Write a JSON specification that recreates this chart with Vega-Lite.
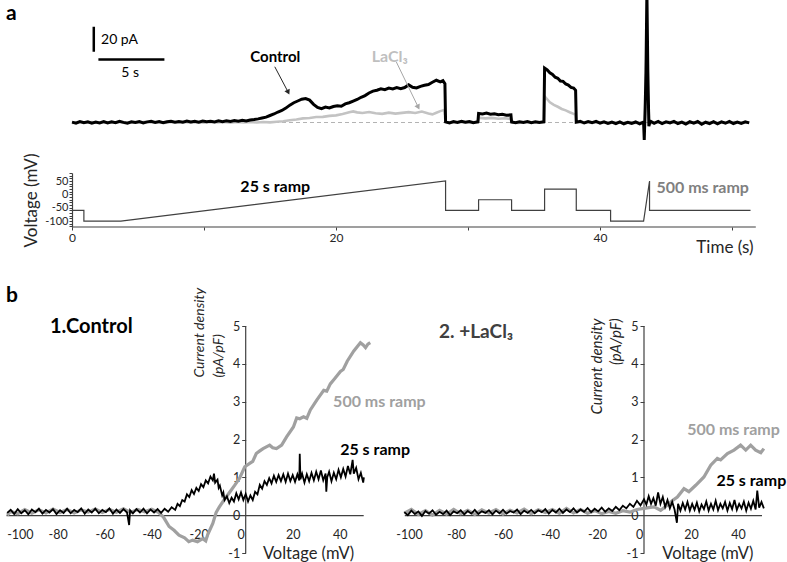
{
"$schema": "https://vega.github.io/schema/vega-lite/v6.json",
"padding": {"left": 0, "top": 0, "right": 0, "bottom": 0},
"config": {
  "font": "Lato",
  "view": {"stroke": null},
  "axis": {"grid": false, "labelFont": "Lato", "titleFont": "Lato", "labelColor": "#262626", "titleColor": "#262626", "titleFontWeight": "normal", "domainColor": "#404040", "tickColor": "#404040", "labelOverlap": false, "domainWidth": 1.2}
},
"bounds": "flush",
"spacing": 28,
"vconcat": [
   {
    "width": 749.8, "height": 145,
    "encoding": {
     "x": {"field": "t", "type": "quantitative", "scale": {"domain": [-5, 51.8], "nice": false, "zero": false}, "axis": null},
     "y": {"field": "pA", "type": "quantitative", "scale": {"domain": [-18, 98], "nice": false, "zero": false}, "axis": null}
    },
    "layer": [
     {"data": {"values": [{"t": 0, "t_end": 51.3, "pA": 0}]}, "mark": {"type": "rule", "color": "#b3b3b3", "strokeWidth": 1, "strokeDash": [4, 3]}, "encoding": {"x2": {"field": "t_end"}}},
     {"data": {"name": "trace_lacl3"}, "mark": {"type": "line", "color": "#c3c3c3", "strokeWidth": 2.6, "clip": true}, "encoding": {"order": {"value": null}}},
     {"data": {"name": "trace_control"}, "mark": {"type": "line", "color": "#000000", "strokeWidth": 3, "clip": true}, "encoding": {"order": {"value": null}}},
     {"data": {"values": [{"t": 1.65, "t_end": 1.65, "pA": 56.6, "pA_end": 76.6}, {"t": 2.0, "t_end": 7.0, "pA": 50.5, "pA_end": 50.5}]}, "mark": {"type": "rule", "color": "#000000", "strokeWidth": 2.5}, "encoding": {"x2": {"field": "t_end"}, "y2": {"field": "pA_end"}}},
     {"data": {"values": [{"t": 15.36, "pA": 44.6, "t_end": 16.35, "pA_end": 24.8, "who": "Control"}, {"t": 24.57, "pA": 48.4, "t_end": 26.2, "pA_end": 12.9, "who": "LaCl3"}]},
      "layer": [
       {"mark": {"type": "rule", "strokeWidth": 1}, "encoding": {"x2": {"field": "t_end"}, "y2": {"field": "pA_end"}, "color": {"field": "who", "type": "nominal", "scale": {"domain": ["Control", "LaCl3"], "range": ["#262626", "#a6a6a6"]}, "legend": null}}},
       {"mark": {"type": "point", "shape": "triangle", "filled": true, "size": 35, "angle": 153, "opacity": 1}, "encoding": {"x": {"field": "t_end", "type": "quantitative", "axis": null}, "y": {"field": "pA_end", "type": "quantitative", "axis": null}, "color": {"field": "who", "type": "nominal", "scale": {"domain": ["Control", "LaCl3"], "range": ["#262626", "#a6a6a6"]}, "legend": null}}}
      ]},
     {"data": {"values": [{"t": 15.4, "pA": 52.4, "label": "Control"}]}, "mark": {"type": "text", "fontWeight": "bold", "fontSize": 15, "color": "#000000", "align": "center", "baseline": "middle"}, "encoding": {"text": {"field": "label"}}},
     {"data": {"values": [{"t": 24.07, "pA": 52.4, "label": "LaCl₃"}]}, "mark": {"type": "text", "fontWeight": "bold", "fontSize": 16, "color": "#bfbfbf", "align": "center", "baseline": "middle"}, "encoding": {"text": {"field": "label"}}},
     {"data": {"values": [{"t": 2.2, "pA": 66, "label": "20 pA"}]}, "mark": {"type": "text", "fontSize": 14, "color": "#000000", "align": "left", "baseline": "middle"}, "encoding": {"text": {"field": "label"}}},
     {"data": {"values": [{"t": 4.4, "pA": 39.4, "label": "5 s"}]}, "mark": {"type": "text", "fontSize": 14, "color": "#000000", "align": "center", "baseline": "middle"}, "encoding": {"text": {"field": "label"}}},
     {"data": {"values": [{"t": -5, "pA": 82, "label": "a"}]}, "mark": {"type": "text", "fontSize": 21, "fontWeight": "bold", "color": "#000000", "align": "left", "baseline": "alphabetic"}, "encoding": {"text": {"field": "label"}}}
    ]
   },
   {
    "width": 749.8, "height": 54,
    "encoding": {
     "x": {"field": "t", "type": "quantitative", "scale": {"domain": [-5, 51.8], "nice": false, "zero": false},
       "axis": {"values": [0, 10, 20, 30, 40, 50], "labelExpr": "datum.value % 20 === 0 ? datum.label : ''", "domain": false, "tickSize": 3, "labelFontSize": 12, "labelPadding": 2, "title": "Time (s)", "titleFontSize": 17, "titleAlign": "right", "titleX": 747, "titleY": 20, "titleBaseline": "middle"}},
     "y": {"field": "mV", "type": "quantitative", "scale": {"domain": [-122, 80], "nice": false, "zero": false},
       "axis": {"orient": "left", "offset": -66, "values": [-120, -110, -100, -90, -80, -70, -60, -50, -40, -30, -20, -10, 0, 10, 20, 30, 40, 50, 60, 70, 80], "labelExpr": "datum.value % 50 === 0 ? '' + datum.value : ''", "tickSize": 3, "labelFontSize": 11, "labelPadding": 1, "title": "Voltage (mV)", "titleFontSize": 17, "titleX": -41, "titleY": 27, "titleAngle": 270, "titleAlign": "center", "titleBaseline": "middle"}}
    },
    "layer": [
     {"data": {"name": "protocol"}, "mark": {"type": "line", "color": "#404040", "strokeWidth": 1.2}, "encoding": {"order": {"value": null}}},
     {"data": {"values": [{"t": 0, "t_end": 51.8, "mV": -122}]}, "mark": {"type": "rule", "color": "#404040", "strokeWidth": 1.2}, "encoding": {"x2": {"field": "t_end"}}},
     {"data": {"values": [{"t": 15.4, "mV": 28.8, "label": "25 s ramp"}]}, "mark": {"type": "text", "fontWeight": "bold", "fontSize": 16, "color": "#000000", "align": "center", "baseline": "middle"}, "encoding": {"text": {"field": "label"}}},
     {"data": {"values": [{"t": 44.27, "mV": 22.8, "label": "500 ms ramp"}]}, "mark": {"type": "text", "fontWeight": "bold", "fontSize": 16, "color": "#808080", "align": "left", "baseline": "middle"}, "encoding": {"text": {"field": "label"}}}
    ]
   },
 {
  "bounds": "flush",
  "spacing": 40.3,
  "hconcat": [
   {
    "width": 357.2, "height": 298,
    "encoding": {
     "x": {"field": "mV", "type": "quantitative", "scale": {"domain": [-102, 50], "nice": false, "zero": false},
       "axis": {"orient": "bottom", "offset": -37.8, "values": [-100, -80, -60, -40, -20, 0, 20, 40], "labelExpr": "'' + datum.value", "tickSize": 0, "labelPadding": 13.5, "labelFontSize": 12.5,
         "labelOffset": {"condition": [{"test": "datum.value === 0", "value": -5}, {"test": "datum.value === -100", "value": -4}], "value": 0},
         "labelAlign": {"condition": {"test": "datum.value === -100", "value": "left"}, "value": "center"},
         "title": "Voltage (mV)", "titleFontSize": 16.5, "titleX": 302, "titleY": 38.5, "titleAlign": "center", "titleBaseline": "middle"}},
     "y": {"field": "J", "type": "quantitative", "scale": {"domain": [-1, 6.877], "nice": false, "zero": false},
       "axis": {"orient": "left", "offset": -239.7, "domain": false, "values": [-1, 0, 1, 2, 3, 4, 5], "labelExpr": "'' + datum.value", "tickSize": 4, "labelPadding": 2, "labelFontSize": 12.5,
         "title": ["Current density", "(pA/pF)"], "titleFontStyle": "italic", "titleFontSize": 14, "titleAngle": 270, "titleAlign": "left", "titleBaseline": "middle", "titleLineHeight": 19, "titleX": -46, "titleY": 122}}
    },
    "layer": [
     {"data": {"values": [{"mV": 0, "J": -1, "J_end": 5}]}, "mark": {"type": "rule", "color": "#404040", "strokeWidth": 1.2}, "encoding": {"y2": {"field": "J_end"}}},
     {"data": {"name": "iv_ctrl_500"}, "mark": {"type": "line", "color": "#a0a0a0", "strokeWidth": 3.2, "clip": false}, "encoding": {"order": {"value": null}}},
     {"data": {"name": "iv_ctrl_25"}, "mark": {"type": "line", "color": "#000000", "strokeWidth": 1.8, "clip": false}, "encoding": {"order": {"value": null}}},
     {"data": {"values": [{"mV": -83.3, "J": 4.82, "label": "1.Control"}]}, "mark": {"type": "text", "fontWeight": "bold", "fontSize": 20, "color": "#000000", "align": "left", "baseline": "alphabetic"}, "encoding": {"text": {"field": "label"}}},
     {"data": {"values": [{"mV": 37.2, "J": 3.0, "label": "500 ms ramp"}]}, "mark": {"type": "text", "fontWeight": "bold", "fontSize": 16, "color": "#a0a0a0", "align": "left", "baseline": "middle"}, "encoding": {"text": {"field": "label"}}},
     {"data": {"values": [{"mV": 40.2, "J": 1.72, "label": "25 s ramp"}]}, "mark": {"type": "text", "fontWeight": "bold", "fontSize": 16, "color": "#000000", "align": "left", "baseline": "middle"}, "encoding": {"text": {"field": "label"}}},
     {"data": {"values": [{"mV": -102, "J": 5.64, "label": "b"}]}, "mark": {"type": "text", "fontWeight": "bold", "fontSize": 21, "color": "#000000", "align": "left", "baseline": "alphabetic"}, "encoding": {"text": {"field": "label"}}}
    ]
   },
   {
    "width": 357.2, "height": 298,
    "encoding": {
     "x": {"field": "mV", "type": "quantitative", "scale": {"domain": [-102, 50], "nice": false, "zero": false},
       "axis": {"orient": "bottom", "offset": -37.8, "values": [-100, -80, -60, -40, -20, 0, 20, 40], "labelExpr": "'' + datum.value", "tickSize": 0, "labelPadding": 13.5, "labelFontSize": 12.5,
         "labelOffset": {"condition": {"test": "datum.value === 0", "value": -5}, "value": 0},
         "title": "Voltage (mV)", "titleFontSize": 16.5, "titleX": 303, "titleY": 38.5, "titleAlign": "center", "titleBaseline": "middle"}},
     "y": {"field": "J", "type": "quantitative", "scale": {"domain": [-1, 6.877], "nice": false, "zero": false},
       "axis": {"orient": "left", "offset": -239.7, "domain": false, "values": [-1, 0, 1, 2, 3, 4, 5], "labelExpr": "'' + datum.value", "tickSize": 4, "labelPadding": 2, "labelFontSize": 12.5,
         "title": ["Current density", "(pA/pF)"], "titleFontStyle": "italic", "titleFontSize": 15, "titleAngle": 270, "titleAlign": "right", "titleBaseline": "middle", "titleLineHeight": 19, "titleX": -48, "titleY": 63}}
    },
    "layer": [
     {"data": {"values": [{"mV": 0, "J": -1, "J_end": 5}]}, "mark": {"type": "rule", "color": "#404040", "strokeWidth": 1.2}, "encoding": {"y2": {"field": "J_end"}}},
     {"data": {"name": "iv_la_500"}, "mark": {"type": "line", "color": "#a0a0a0", "strokeWidth": 3.2, "clip": false}, "encoding": {"order": {"value": null}}},
     {"data": {"name": "iv_la_25"}, "mark": {"type": "line", "color": "#000000", "strokeWidth": 1.8, "clip": false}, "encoding": {"order": {"value": null}}},
     {"data": {"values": [{"mV": -87.2, "J": 4.68, "label": "2. +LaCl₃"}]}, "mark": {"type": "text", "fontWeight": "bold", "fontSize": 19, "color": "#404040", "align": "left", "baseline": "alphabetic"}, "encoding": {"text": {"field": "label"}}},
     {"data": {"values": [{"mV": 18.4, "J": 2.25, "label": "500 ms ramp"}]}, "mark": {"type": "text", "fontWeight": "bold", "fontSize": 16, "color": "#a0a0a0", "align": "left", "baseline": "middle"}, "encoding": {"text": {"field": "label"}}},
     {"data": {"values": [{"mV": 30.8, "J": 0.89, "label": "25 s ramp"}]}, "mark": {"type": "text", "fontWeight": "bold", "fontSize": 16, "color": "#000000", "align": "left", "baseline": "middle"}, "encoding": {"text": {"field": "label"}}}
    ]
   }
  ]
 }
],
"datasets": {
 "protocol": [{"t":0,"mV":-60},{"t":0.9,"mV":-60},{"t":0.9,"mV":-100},{"t":3.7,"mV":-100},{"t":28.3,"mV":50},{"t":28.3,"mV":-60},{"t":30.8,"mV":-60},{"t":30.8,"mV":-20},{"t":33.3,"mV":-20},{"t":33.3,"mV":-60},{"t":35.8,"mV":-60},{"t":35.8,"mV":20},{"t":38.2,"mV":20},{"t":38.2,"mV":-60},{"t":40.8,"mV":-60},{"t":40.8,"mV":-100},{"t":43.3,"mV":-100},{"t":43.75,"mV":50},{"t":43.75,"mV":-60},{"t":51.4,"mV":-60}],
 "trace_control": [{"t":0,"pA":0.3},{"t":0.3,"pA":-0.5},{"t":0.6,"pA":0.8},{"t":0.9,"pA":-0.2},{"t":1.2,"pA":0.6},{"t":1.5,"pA":-0.6},{"t":1.8,"pA":0.4},{"t":2.1,"pA":-0.3},{"t":2.4,"pA":0.7},{"t":2.7,"pA":-0.4},{"t":3.0,"pA":0.5},{"t":3.3,"pA":-0.2},{"t":3.6,"pA":0.9},{"t":3.9,"pA":0.1},{"t":4.2,"pA":-0.5},{"t":4.5,"pA":0.6},{"t":4.8,"pA":0},{"t":5.1,"pA":0.8},{"t":5.4,"pA":-0.3},{"t":5.7,"pA":0.5},{"t":6.0,"pA":0.9},{"t":6.3,"pA":0.1},{"t":6.6,"pA":0.7},{"t":6.9,"pA":-0.2},{"t":7.2,"pA":0.6},{"t":7.5,"pA":1.0},{"t":7.8,"pA":0.2},{"t":8.1,"pA":0.8},{"t":8.4,"pA":0.3},{"t":8.7,"pA":1.1},{"t":9.0,"pA":0.4},{"t":9.3,"pA":0.9},{"t":9.6,"pA":0.3},{"t":9.9,"pA":1.2},{"t":10.2,"pA":0.6},{"t":10.5,"pA":1.0},{"t":10.8,"pA":0.5},{"t":11.1,"pA":1.3},{"t":11.4,"pA":0.7},{"t":11.7,"pA":1.4},{"t":12.0,"pA":0.9},{"t":12.3,"pA":1.5},{"t":12.6,"pA":1.0},{"t":12.9,"pA":1.8},{"t":13.2,"pA":1.3},{"t":13.5,"pA":2.0},{"t":13.8,"pA":2.4},{"t":14.1,"pA":2.9},{"t":14.4,"pA":3.6},{"t":14.7,"pA":4.3},{"t":15.0,"pA":5.6},{"t":15.3,"pA":6.8},{"t":15.6,"pA":8.4},{"t":15.9,"pA":9.6},{"t":16.2,"pA":11.5},{"t":16.5,"pA":13.9},{"t":16.8,"pA":15.8},{"t":17.1,"pA":17.2},{"t":17.4,"pA":18.6},{"t":17.7,"pA":19.2},{"t":18.0,"pA":17.9},{"t":18.3,"pA":14.5},{"t":18.6,"pA":12.0},{"t":18.9,"pA":11.0},{"t":19.2,"pA":12.3},{"t":19.5,"pA":11.6},{"t":19.8,"pA":12.8},{"t":20.1,"pA":13.4},{"t":20.4,"pA":13.0},{"t":20.7,"pA":14.9},{"t":21.0,"pA":15.8},{"t":21.3,"pA":17.1},{"t":21.6,"pA":18.4},{"t":21.9,"pA":20.2},{"t":22.2,"pA":21.5},{"t":22.5,"pA":23.6},{"t":22.8,"pA":25.1},{"t":23.1,"pA":25.8},{"t":23.4,"pA":26.9},{"t":23.7,"pA":26.2},{"t":24.0,"pA":27.5},{"t":24.3,"pA":26.8},{"t":24.6,"pA":27.9},{"t":24.9,"pA":27.1},{"t":25.2,"pA":28.0},{"t":25.5,"pA":30.1},{"t":25.8,"pA":28.2},{"t":26.1,"pA":27.6},{"t":26.4,"pA":28.9},{"t":26.7,"pA":29.8},{"t":27.0,"pA":30.4},{"t":27.3,"pA":32.2},{"t":27.6,"pA":33.8},{"t":27.9,"pA":32.5},{"t":28.1,"pA":33.5},{"t":28.25,"pA":31.0},{"t":28.3,"pA":0.5},{"t":28.6,"pA":-0.3},{"t":28.9,"pA":0.7},{"t":29.2,"pA":0.1},{"t":29.5,"pA":0.9},{"t":29.8,"pA":0.2},{"t":30.1,"pA":0.8},{"t":30.4,"pA":-0.1},{"t":30.75,"pA":0.6},{"t":30.8,"pA":7.2},{"t":31.1,"pA":6.8},{"t":31.4,"pA":7.5},{"t":31.7,"pA":6.6},{"t":32.0,"pA":6.9},{"t":32.3,"pA":6.2},{"t":32.6,"pA":6.5},{"t":32.9,"pA":5.8},{"t":33.25,"pA":6.1},{"t":33.3,"pA":0.4},{"t":33.6,"pA":-0.2},{"t":33.9,"pA":0.6},{"t":34.2,"pA":0},{"t":34.5,"pA":0.7},{"t":34.8,"pA":-0.1},{"t":35.1,"pA":0.5},{"t":35.4,"pA":0.1},{"t":35.75,"pA":0.6},{"t":35.8,"pA":43.5},{"t":36.0,"pA":42.0},{"t":36.2,"pA":39.8},{"t":36.4,"pA":38.5},{"t":36.6,"pA":36.2},{"t":36.8,"pA":35.4},{"t":37.0,"pA":33.2},{"t":37.2,"pA":32.9},{"t":37.4,"pA":30.8},{"t":37.6,"pA":29.9},{"t":37.8,"pA":28.1},{"t":38.0,"pA":27.6},{"t":38.15,"pA":25.8},{"t":38.2,"pA":0.3},{"t":38.5,"pA":1.0},{"t":38.8,"pA":-0.4},{"t":39.1,"pA":0.8},{"t":39.4,"pA":-0.2},{"t":39.7,"pA":0.9},{"t":40.0,"pA":-0.5},{"t":40.3,"pA":0.6},{"t":40.6,"pA":-0.7},{"t":40.9,"pA":0.4},{"t":41.2,"pA":-0.9},{"t":41.5,"pA":0.5},{"t":41.8,"pA":-1.0},{"t":42.1,"pA":0.2},{"t":42.4,"pA":-0.8},{"t":42.7,"pA":0.4},{"t":43.0,"pA":-1.1},{"t":43.3,"pA":0.3},{"t":43.35,"pA":-14},{"t":43.42,"pA":12},{"t":43.48,"pA":40},{"t":43.55,"pA":105},{"t":43.62,"pA":42},{"t":43.7,"pA":-3},{"t":43.8,"pA":1.2},{"t":44.1,"pA":-0.6},{"t":44.4,"pA":0.8},{"t":44.7,"pA":-0.9},{"t":45.0,"pA":0.5},{"t":45.3,"pA":-0.4},{"t":45.6,"pA":0.9},{"t":45.9,"pA":-0.8},{"t":46.2,"pA":0.3},{"t":46.5,"pA":-1.2},{"t":46.8,"pA":0.6},{"t":47.1,"pA":-0.5},{"t":47.4,"pA":0.8},{"t":47.7,"pA":-1.4},{"t":48.0,"pA":0.2},{"t":48.3,"pA":-0.9},{"t":48.6,"pA":0.7},{"t":48.9,"pA":-1.0},{"t":49.2,"pA":0.5},{"t":49.5,"pA":-0.6},{"t":49.8,"pA":0.9},{"t":50.1,"pA":-0.8},{"t":50.4,"pA":0.4},{"t":50.7,"pA":-0.7},{"t":51.0,"pA":0.6},{"t":51.3,"pA":-0.3}],
 "trace_lacl3": [{"t":0,"pA":-0.3},{"t":0.5,"pA":0.4},{"t":1.0,"pA":-0.2},{"t":1.5,"pA":0.3},{"t":2.0,"pA":-0.4},{"t":2.5,"pA":0.2},{"t":3.0,"pA":-0.1},{"t":3.5,"pA":0.4},{"t":4.0,"pA":-0.3},{"t":4.5,"pA":0.2},{"t":5.0,"pA":-0.2},{"t":5.5,"pA":0.5},{"t":6.0,"pA":0.0},{"t":6.5,"pA":0.3},{"t":7.0,"pA":-0.3},{"t":7.5,"pA":0.4},{"t":8.0,"pA":0.0},{"t":8.5,"pA":0.5},{"t":9.0,"pA":-0.1},{"t":9.5,"pA":0.3},{"t":10.0,"pA":-0.2},{"t":10.5,"pA":0.4},{"t":11.0,"pA":0.0},{"t":11.5,"pA":0.5},{"t":12.0,"pA":-0.1},{"t":12.5,"pA":0.4},{"t":13.0,"pA":0.1},{"t":13.5,"pA":0.5},{"t":14.0,"pA":0.0},{"t":14.5,"pA":0.4},{"t":15.0,"pA":0.1},{"t":15.5,"pA":0.6},{"t":16.0,"pA":1.0},{"t":16.5,"pA":1.8},{"t":17.0,"pA":2.4},{"t":17.5,"pA":3.3},{"t":18.0,"pA":3.6},{"t":18.5,"pA":4.4},{"t":19.0,"pA":4.5},{"t":19.5,"pA":5.3},{"t":20.0,"pA":5.7},{"t":20.5,"pA":6.8},{"t":21.0,"pA":8.2},{"t":21.3,"pA":8.9},{"t":21.6,"pA":8.1},{"t":22.0,"pA":7.6},{"t":22.5,"pA":8.4},{"t":23.0,"pA":7.4},{"t":23.5,"pA":6.9},{"t":24.0,"pA":7.9},{"t":24.5,"pA":7.1},{"t":25.0,"pA":7.7},{"t":25.5,"pA":8.3},{"t":26.0,"pA":7.6},{"t":26.5,"pA":8.8},{"t":27.0,"pA":7.2},{"t":27.3,"pA":6.5},{"t":27.6,"pA":7.8},{"t":27.9,"pA":9.1},{"t":28.2,"pA":10.1},{"t":28.3,"pA":0.3},{"t":28.8,"pA":-0.2},{"t":29.3,"pA":0.4},{"t":29.8,"pA":-0.1},{"t":30.3,"pA":0.3},{"t":30.75,"pA":-0.1},{"t":30.8,"pA":3.9},{"t":31.3,"pA":3.3},{"t":31.8,"pA":3.7},{"t":32.3,"pA":3.0},{"t":32.8,"pA":3.4},{"t":33.25,"pA":2.8},{"t":33.3,"pA":0.2},{"t":33.8,"pA":-0.3},{"t":34.3,"pA":0.4},{"t":34.8,"pA":-0.1},{"t":35.3,"pA":0.3},{"t":35.75,"pA":0.0},{"t":35.8,"pA":21.0},{"t":36.0,"pA":18.6},{"t":36.2,"pA":16.2},{"t":36.5,"pA":14.1},{"t":36.8,"pA":12.6},{"t":37.1,"pA":10.8},{"t":37.4,"pA":9.7},{"t":37.7,"pA":8.2},{"t":38.0,"pA":6.9},{"t":38.15,"pA":6.1},{"t":38.2,"pA":0.3},{"t":38.7,"pA":-0.4},{"t":39.2,"pA":0.5},{"t":39.7,"pA":-0.2},{"t":40.2,"pA":0.3},{"t":40.7,"pA":-0.5},{"t":41.2,"pA":0.2},{"t":41.7,"pA":-0.4},{"t":42.2,"pA":0.4},{"t":42.7,"pA":-0.3},{"t":43.3,"pA":0.2},{"t":43.38,"pA":-8},{"t":43.5,"pA":50},{"t":43.65,"pA":15},{"t":43.75,"pA":-1},{"t":44.2,"pA":0.4},{"t":44.7,"pA":-0.3},{"t":45.2,"pA":0.5},{"t":45.7,"pA":-0.2},{"t":46.2,"pA":0.3},{"t":46.7,"pA":-0.5},{"t":47.2,"pA":0.2},{"t":47.7,"pA":-0.3},{"t":48.2,"pA":0.4},{"t":48.7,"pA":-0.4},{"t":49.2,"pA":0.3},{"t":49.7,"pA":-0.2},{"t":50.2,"pA":0.4},{"t":50.7,"pA":-0.3},{"t":51.3,"pA":0.1}],
 "iv_ctrl_500": [{"mV":-101.5,"J":0.0},{"mV":-100,"J":0.1},{"mV":-97,"J":0.04},{"mV":-94,"J":0.15},{"mV":-91,"J":0.05},{"mV":-88,"J":0.14},{"mV":-85,"J":0.06},{"mV":-82,"J":0.16},{"mV":-79,"J":0.07},{"mV":-76,"J":0.15},{"mV":-73,"J":0.06},{"mV":-70,"J":0.14},{"mV":-67,"J":0.08},{"mV":-64,"J":0.16},{"mV":-61,"J":0.07},{"mV":-58,"J":0.15},{"mV":-55,"J":0.08},{"mV":-52,"J":0.17},{"mV":-49,"J":0.07},{"mV":-46,"J":0.15},{"mV":-43,"J":0.09},{"mV":-40,"J":0.16},{"mV":-38,"J":0.1},{"mV":-37,"J":0.07},{"mV":-35,"J":-0.05},{"mV":-32.6,"J":-0.3},{"mV":-30.5,"J":-0.4},{"mV":-28.4,"J":-0.53},{"mV":-26,"J":-0.6},{"mV":-24.2,"J":-0.7},{"mV":-22.6,"J":-0.66},{"mV":-20.5,"J":-0.7},{"mV":-18.3,"J":-0.62},{"mV":-17,"J":-0.68},{"mV":-16.2,"J":-0.52},{"mV":-14,"J":-0.22},{"mV":-12.6,"J":0.07},{"mV":-11.2,"J":0.22},{"mV":-9,"J":0.42},{"mV":-6.9,"J":0.6},{"mV":-4.8,"J":0.78},{"mV":-2.6,"J":0.98},{"mV":-0.4,"J":1.28},{"mV":1.7,"J":1.37},{"mV":3,"J":1.42},{"mV":4.5,"J":1.63},{"mV":6,"J":1.7},{"mV":7.4,"J":1.76},{"mV":10.2,"J":1.85},{"mV":11.5,"J":1.78},{"mV":13.1,"J":1.76},{"mV":15.3,"J":1.85},{"mV":17.4,"J":2.07},{"mV":20.3,"J":2.33},{"mV":21.7,"J":2.57},{"mV":23,"J":2.55},{"mV":24.6,"J":2.6},{"mV":26,"J":2.56},{"mV":27.5,"J":2.78},{"mV":30.3,"J":3.05},{"mV":33.2,"J":3.3},{"mV":34.5,"J":3.28},{"mV":36,"J":3.47},{"mV":38,"J":3.62},{"mV":40.3,"J":3.8},{"mV":41.5,"J":3.85},{"mV":43.2,"J":4.07},{"mV":46,"J":4.34},{"mV":48.8,"J":4.56},{"mV":50,"J":4.5},{"mV":51,"J":4.43},{"mV":52,"J":4.52},{"mV":53,"J":4.56}],
 "iv_ctrl_25": [{"mV":-101.5,"J":0.06},{"mV":-100,"J":0.14},{"mV":-98.5,"J":0.03},{"mV":-97,"J":0.16},{"mV":-95.5,"J":0.05},{"mV":-94,"J":0.13},{"mV":-92.5,"J":0.02},{"mV":-91,"J":0.15},{"mV":-89.5,"J":0.08},{"mV":-88,"J":0.17},{"mV":-86.5,"J":0.04},{"mV":-85,"J":0.14},{"mV":-83.5,"J":0.07},{"mV":-82,"J":0.16},{"mV":-80.5,"J":0.03},{"mV":-79,"J":0.13},{"mV":-77.5,"J":0.06},{"mV":-76,"J":0.17},{"mV":-74.5,"J":0.05},{"mV":-73,"J":0.14},{"mV":-71.5,"J":0.08},{"mV":-70,"J":0.18},{"mV":-68.5,"J":0.04},{"mV":-67,"J":0.15},{"mV":-65.5,"J":0.07},{"mV":-64,"J":0.17},{"mV":-62.5,"J":0.05},{"mV":-61,"J":0.14},{"mV":-59.5,"J":0.08},{"mV":-58,"J":0.18},{"mV":-56.5,"J":0.04},{"mV":-55,"J":0.15},{"mV":-53.5,"J":0.06},{"mV":-52,"J":0.16},{"mV":-50.5,"J":0.07},{"mV":-49.6,"J":-0.26},{"mV":-49.2,"J":0.13},{"mV":-48,"J":0.05},{"mV":-46.5,"J":0.16},{"mV":-45,"J":0.07},{"mV":-43.5,"J":0.17},{"mV":-42,"J":0.05},{"mV":-40.5,"J":0.15},{"mV":-39,"J":0.07},{"mV":-37.5,"J":0.16},{"mV":-36,"J":0.06},{"mV":-34.5,"J":0.17},{"mV":-33,"J":0.09},{"mV":-31.5,"J":0.21},{"mV":-30,"J":0.14},{"mV":-29,"J":0.3},{"mV":-28,"J":0.24},{"mV":-27,"J":0.4},{"mV":-26,"J":0.36},{"mV":-25,"J":0.55},{"mV":-24,"J":0.48},{"mV":-23,"J":0.66},{"mV":-22,"J":0.56},{"mV":-21,"J":0.72},{"mV":-20,"J":0.64},{"mV":-19,"J":0.82},{"mV":-18,"J":0.74},{"mV":-17,"J":0.92},{"mV":-16,"J":0.84},{"mV":-15,"J":1.02},{"mV":-14,"J":0.92},{"mV":-13.5,"J":1.1},{"mV":-13,"J":0.86},{"mV":-12,"J":0.94},{"mV":-11.5,"J":0.72},{"mV":-11,"J":0.78},{"mV":-10,"J":0.52},{"mV":-9.5,"J":0.6},{"mV":-9,"J":0.4},{"mV":-8,"J":0.5},{"mV":-7,"J":0.32},{"mV":-6,"J":0.46},{"mV":-5,"J":0.36},{"mV":-4,"J":0.58},{"mV":-3,"J":0.42},{"mV":-2,"J":0.6},{"mV":-1,"J":0.4},{"mV":0,"J":0.56},{"mV":1,"J":0.36},{"mV":2,"J":0.52},{"mV":3,"J":0.4},{"mV":4,"J":0.62},{"mV":5,"J":0.55},{"mV":6,"J":0.8},{"mV":7,"J":0.7},{"mV":8,"J":0.9},{"mV":9,"J":0.8},{"mV":10,"J":0.98},{"mV":11,"J":0.84},{"mV":12,"J":1.04},{"mV":13,"J":0.88},{"mV":14,"J":1.06},{"mV":15,"J":0.9},{"mV":16,"J":1.08},{"mV":17,"J":0.88},{"mV":18,"J":1.1},{"mV":19,"J":0.9},{"mV":20,"J":1.06},{"mV":21,"J":0.88},{"mV":22,"J":1.08},{"mV":22.8,"J":0.92},{"mV":23,"J":1.62},{"mV":23.3,"J":0.95},{"mV":24,"J":1.1},{"mV":25,"J":0.86},{"mV":26,"J":1.08},{"mV":27,"J":0.9},{"mV":28,"J":1.12},{"mV":29,"J":0.92},{"mV":30,"J":1.15},{"mV":31,"J":0.95},{"mV":32,"J":1.18},{"mV":33,"J":0.92},{"mV":34,"J":1.1},{"mV":34.3,"J":0.62},{"mV":34.7,"J":1.0},{"mV":35.5,"J":1.15},{"mV":36.5,"J":0.9},{"mV":37.5,"J":1.12},{"mV":38.5,"J":0.95},{"mV":39.5,"J":1.2},{"mV":40.5,"J":1.0},{"mV":41.5,"J":1.22},{"mV":42.5,"J":1.02},{"mV":43.5,"J":1.3},{"mV":44.5,"J":1.08},{"mV":45.5,"J":1.46},{"mV":46,"J":1.1},{"mV":47,"J":1.25},{"mV":48,"J":0.95},{"mV":49,"J":1.12},{"mV":50,"J":0.86},{"mV":50.3,"J":1.0}],
 "iv_la_500": [{"mV":-102,"J":0.05},{"mV":-99,"J":0.15},{"mV":-96,"J":0.02},{"mV":-93,"J":0.12},{"mV":-90,"J":0.0},{"mV":-87,"J":0.13},{"mV":-84,"J":0.03},{"mV":-81,"J":0.15},{"mV":-78,"J":0.04},{"mV":-75,"J":0.13},{"mV":-72,"J":0.02},{"mV":-69,"J":0.14},{"mV":-66,"J":0.05},{"mV":-63,"J":0.15},{"mV":-60,"J":0.03},{"mV":-57,"J":0.13},{"mV":-54,"J":0.06},{"mV":-51,"J":0.16},{"mV":-48,"J":0.04},{"mV":-45,"J":0.14},{"mV":-42,"J":0.07},{"mV":-39,"J":0.15},{"mV":-36,"J":0.05},{"mV":-33,"J":0.18},{"mV":-30,"J":0.06},{"mV":-27,"J":0.15},{"mV":-24,"J":0.05},{"mV":-21,"J":0.12},{"mV":-18,"J":0.04},{"mV":-15,"J":0.1},{"mV":-12,"J":0.05},{"mV":-9,"J":0.12},{"mV":-6,"J":0.08},{"mV":-3,"J":0.15},{"mV":0,"J":0.18},{"mV":2,"J":0.2},{"mV":4.3,"J":0.22},{"mV":7.1,"J":0.13},{"mV":9.9,"J":0.26},{"mV":12,"J":0.38},{"mV":14.2,"J":0.48},{"mV":17,"J":0.7},{"mV":19.1,"J":0.62},{"mV":22,"J":0.79},{"mV":25.5,"J":1.01},{"mV":28.4,"J":1.32},{"mV":31.2,"J":1.5},{"mV":32.6,"J":1.46},{"mV":35.5,"J":1.63},{"mV":38.3,"J":1.72},{"mV":41.1,"J":1.85},{"mV":43.3,"J":1.72},{"mV":45.4,"J":1.85},{"mV":47.5,"J":1.72},{"mV":49.7,"J":1.65},{"mV":51,"J":1.76}],
 "iv_la_25": [{"mV":-102,"J":0.08},{"mV":-100.5,"J":0.0},{"mV":-99,"J":0.12},{"mV":-97.5,"J":0.03},{"mV":-96,"J":0.1},{"mV":-94.5,"J":-0.02},{"mV":-93,"J":0.11},{"mV":-91.5,"J":0.04},{"mV":-90,"J":0.13},{"mV":-88.5,"J":0.01},{"mV":-87,"J":0.09},{"mV":-85.5,"J":0.03},{"mV":-84,"J":0.12},{"mV":-82.5,"J":0.0},{"mV":-81,"J":0.1},{"mV":-79.5,"J":0.05},{"mV":-78,"J":0.13},{"mV":-76.5,"J":0.02},{"mV":-75,"J":0.11},{"mV":-73.5,"J":0.04},{"mV":-72,"J":0.14},{"mV":-70.5,"J":0.03},{"mV":-69,"J":0.1},{"mV":-67.5,"J":0.06},{"mV":-66,"J":0.13},{"mV":-64.5,"J":0.02},{"mV":-63,"J":0.12},{"mV":-61.5,"J":0.05},{"mV":-60,"J":0.14},{"mV":-58.5,"J":0.04},{"mV":-57,"J":0.11},{"mV":-55.5,"J":0.07},{"mV":-54,"J":0.15},{"mV":-52.5,"J":0.03},{"mV":-51,"J":0.12},{"mV":-49.5,"J":0.06},{"mV":-48,"J":0.14},{"mV":-46.5,"J":0.05},{"mV":-45,"J":0.13},{"mV":-43.5,"J":0.08},{"mV":-42,"J":0.16},{"mV":-40.5,"J":0.04},{"mV":-39,"J":0.14},{"mV":-37.5,"J":0.07},{"mV":-36,"J":0.17},{"mV":-34.5,"J":0.06},{"mV":-33,"J":0.15},{"mV":-31.5,"J":0.08},{"mV":-30,"J":0.18},{"mV":-28.5,"J":0.07},{"mV":-27,"J":0.15},{"mV":-25.5,"J":0.09},{"mV":-24,"J":0.19},{"mV":-22.5,"J":0.08},{"mV":-21,"J":0.17},{"mV":-19.5,"J":0.1},{"mV":-18,"J":0.2},{"mV":-16.5,"J":0.09},{"mV":-15,"J":0.18},{"mV":-13.5,"J":0.11},{"mV":-12,"J":0.22},{"mV":-10.5,"J":0.13},{"mV":-9,"J":0.25},{"mV":-7.5,"J":0.18},{"mV":-6,"J":0.3},{"mV":-4.5,"J":0.22},{"mV":-3,"J":0.38},{"mV":-1.5,"J":0.26},{"mV":0,"J":0.42},{"mV":1,"J":0.28},{"mV":2,"J":0.5},{"mV":3,"J":0.3},{"mV":4,"J":0.45},{"mV":5,"J":0.25},{"mV":6,"J":0.6},{"mV":7,"J":0.3},{"mV":8,"J":0.48},{"mV":9,"J":0.22},{"mV":10,"J":0.4},{"mV":11,"J":0.18},{"mV":12,"J":0.35},{"mV":13,"J":0.15},{"mV":14,"J":-0.2},{"mV":14.5,"J":0.3},{"mV":15.5,"J":0.12},{"mV":16.5,"J":0.32},{"mV":17.5,"J":0.15},{"mV":18.5,"J":0.35},{"mV":19.5,"J":0.12},{"mV":20.5,"J":0.3},{"mV":21.5,"J":0.14},{"mV":22.5,"J":0.33},{"mV":23.5,"J":0.1},{"mV":24.5,"J":0.28},{"mV":25.5,"J":0.16},{"mV":26.5,"J":0.36},{"mV":27.5,"J":0.12},{"mV":28.5,"J":0.3},{"mV":29.5,"J":0.15},{"mV":30.5,"J":0.38},{"mV":31.5,"J":0.13},{"mV":32.5,"J":0.3},{"mV":33.5,"J":0.18},{"mV":34.5,"J":0.35},{"mV":35.5,"J":0.12},{"mV":36.5,"J":0.32},{"mV":37.5,"J":0.16},{"mV":38.5,"J":0.4},{"mV":39.5,"J":0.14},{"mV":40.5,"J":0.3},{"mV":41.5,"J":0.18},{"mV":42.5,"J":0.36},{"mV":43.5,"J":0.12},{"mV":44.5,"J":0.33},{"mV":45.5,"J":0.17},{"mV":46.5,"J":0.38},{"mV":47.5,"J":0.15},{"mV":48.2,"J":0.65},{"mV":49,"J":0.2},{"mV":50,"J":0.35},{"mV":51,"J":0.18}]
}
}
